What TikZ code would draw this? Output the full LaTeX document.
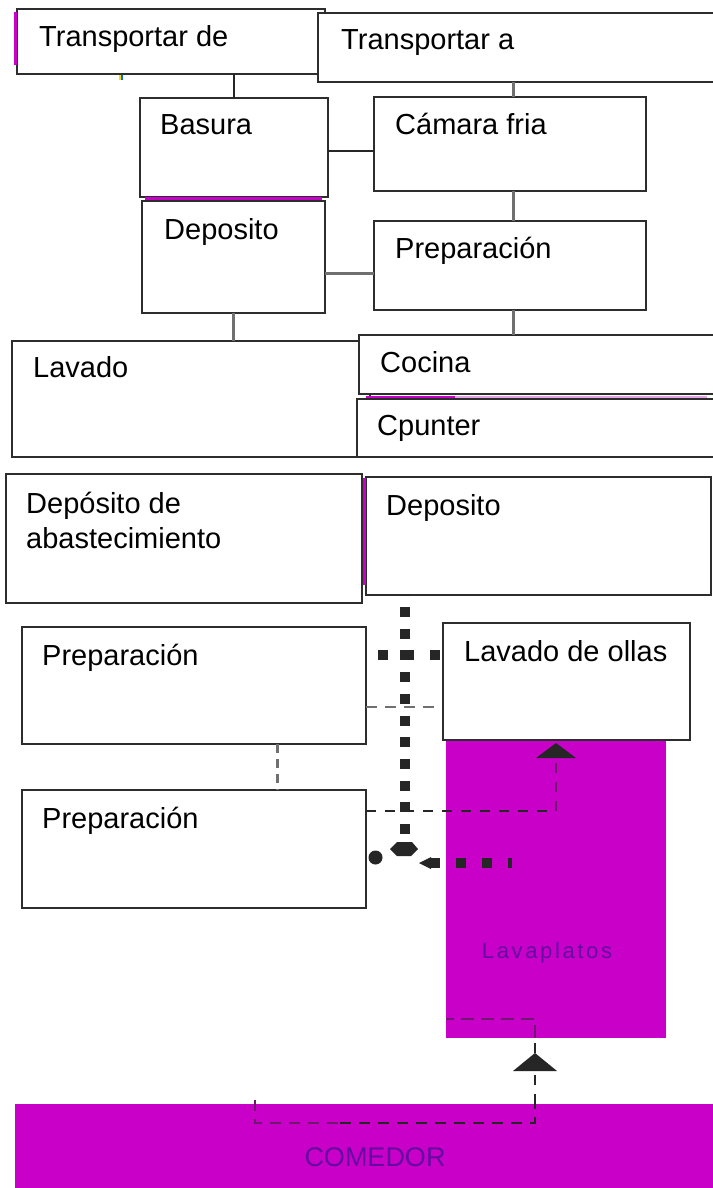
\documentclass[tikz,border=0pt]{standalone}
\usepackage{fontspec}
\setmainfont{Liberation Sans}
\usetikzlibrary{calc}
\definecolor{mag}{RGB}{200,0,200}
\definecolor{lightmag}{RGB}{230,165,230}
\definecolor{bord}{RGB}{45,45,45}
\definecolor{dk}{RGB}{38,38,38}
\definecolor{gr}{RGB}{112,112,112}
\definecolor{pdash}{RGB}{110,25,110}
\definecolor{ptext}{RGB}{100,10,160}
\begin{document}
\begin{tikzpicture}[x=1pt,y=-1pt,
  box/.style={draw=bord, line width=1.4pt, fill=white, anchor=north west, inner sep=0pt, outer sep=0pt},
  magbox/.style={fill=mag, draw=none, anchor=north west, inner sep=0pt, outer sep=0pt},
  txt/.style={anchor=base west, inner sep=0pt, font=\fontsize{29}{34}\selectfont},
  ptxt/.style={inner sep=0pt, text=ptext},
  cdark/.style={draw=dk, line width=2pt},
  cgray/.style={draw=gr, line width=3pt},
  thickdot/.style={draw=dk, line width=10pt, dash pattern=on 10pt off 11.7pt},
  thickdoth/.style={draw=dk, line width=10pt, dash pattern=on 10pt off 16pt},
  grdash/.style={draw=gr, line width=2.5pt, dash pattern=on 11pt off 8pt},
  dkdash/.style={draw=dk, line width=2pt, dash pattern=on 10pt off 9pt},
  pdashed/.style={draw=pdash, line width=2pt, dash pattern=on 10pt off 9pt},
  accent/.style={draw=mag, line width=3pt}
]
\useasboundingbox (0,0) rectangle (712,1188);
\fill[white] (0,0) rectangle (712,1188);

% magenta areas
\node[magbox, minimum width=220pt, minimum height=308pt] (lavaplatos) at (446,730) {};
\node[magbox, minimum width=705pt, minimum height=95pt] (comedor) at (15,1104) {};
\node[ptxt, anchor=base, font=\fontsize{22}{24}\selectfont\addfontfeature{LetterSpace=12}] at (547,958) {Lavaplatos};
\node[ptxt, font=\fontsize{27}{30}\selectfont] at (375,1157) {COMEDOR};

% boxes
\node[box, minimum width=308pt, minimum height=65pt] (tde) at (17,9) {};
\node[box, minimum width=402pt, minimum height=69pt] (ta) at (318,13) {};
\node[box, minimum width=188pt, minimum height=99pt] (basura) at (140,98) {};
\node[box, minimum width=272pt, minimum height=94pt] (camara) at (374,97) {};
\node[box, minimum width=183pt, minimum height=112pt] (dep1) at (142,201) {};
\node[box, minimum width=272pt, minimum height=89pt] (prep1) at (374,221) {};
\node[box, minimum width=358pt, minimum height=116pt] (lavado) at (12,341) {};
\node[box, minimum width=361pt, minimum height=59pt] (cocina) at (359,335) {};
\node[box, minimum width=363pt, minimum height=58pt] (cpunter) at (357,399) {};
\node[box, minimum width=356pt, minimum height=129pt] (depab) at (6,474) {};
\node[box, minimum width=345pt, minimum height=118pt] (dep2) at (366,477) {};
\node[box, minimum width=344pt, minimum height=117pt] (prep2) at (22,627) {};
\node[box, minimum width=247pt, minimum height=117pt] (ollas) at (443,623) {};
\node[box, minimum width=344pt, minimum height=118pt] (prep3) at (22,790) {};

% texts
\node[txt] at (39,47) {Transportar de};
\node[txt] at (341,50) {Transportar a};
\node[txt] at (160,135) {Basura};
\node[txt] at (395,135) {Cámara fria};
\node[txt] at (164,239) {Deposito};
\node[txt] at (395,258) {Preparación};
\node[txt] at (33,377) {Lavado};
\node[txt] at (380,372) {Cocina};
\node[txt] at (377,435) {Cpunter};
\node[txt] at (26,513) {Depósito de};
\node[txt] at (26,548) {abastecimiento};
\node[txt] at (386,515) {Deposito};
\node[txt] at (42,665) {Preparación};
\node[txt] at (464,661) {Lavado de ollas};
\node[txt] at (42,828) {Preparación};

% magenta accents and small marks
\draw[accent] (15.5,12) -- (15.5,65);
\draw[mag, line width=2.5pt] (145,198.5) -- (322,198.5);
\draw[mag, line width=2.5pt] (366,397) -- (455,397);
\draw[lightmag, line width=2.5pt] (455,397) -- (707,397);
\draw[accent] (364,478) -- (364,585);
\fill[yellow!80!orange] (119,75) rectangle (121,80);
\fill[blue!60!cyan] (121,75) rectangle (123,80);

% helper coordinates
\coordinate (h151) at (0,151);
\coordinate (h273) at (0,273);
\coordinate (x513) at (513,0);
\coordinate (v405) at (405,0);
\coordinate (h655) at (0,655);
\coordinate (h707) at (0,707);
\coordinate (h811) at (0,811);
\coordinate (x277) at (277,0);
\coordinate (aup) at (556,743);
\coordinate (vend) at (405,836);
\coordinate (hstart) at (512,863);
\coordinate (hend) at (430,863);
\coordinate (ltip) at (419,863);
\coordinate (dot) at (375.5,857.5);
\coordinate (cs) at (255,1100);
\coordinate (c1) at (255,1123);
\coordinate (c2) at (340,1123);
\coordinate (c3) at (535,1123);
\coordinate (atip) at (535,1053);
\coordinate (cin) at (535,1019);

% upper connectors
\draw[cdark] (basura.north |- tde.south) -- (basura.north);
\draw[cgray] (x513 |- ta.south) -- (x513 |- camara.north);
\draw[cdark] (basura.east |- h151) -- (camara.west |- h151);
\draw[cgray] (x513 |- camara.south) -- (x513 |- prep1.north);
\draw[cgray] (dep1.east |- h273) -- (prep1.west |- h273);
\draw[cgray] (dep1.south) -- (dep1.south |- lavado.north);
\draw[cgray] (x513 |- prep1.south) -- (x513 |- cocina.north);

% lower connectors
\draw[thickdot, dash phase=9.7pt] (v405 |- dep2.south) -- (vend);
\fill[dk] (390,849) -- (397,842) -- (412,842) -- (418,849) -- (411,856) -- (397,856) -- cycle;
\draw[thickdoth, dash phase=14pt] (prep2.east |- h655) -- (ollas.west |- h655);
\draw[grdash] (prep2.east |- h707) -- ([xshift=-6pt]ollas.west |- h707);
\draw[grdash, line width=3pt, dash pattern=on 9pt off 6pt] (x277 |- prep2.south) -- (x277 |- prep3.north);
\draw[dkdash] (prep3.east |- h811) -- (aup |- h811);
\draw[pdashed] (aup |- h811) -- ($(aup)+(0,15)$);
\fill[dk] (aup) -- ++(-20,15) -- ++(40,0) -- cycle;
\draw[thickdoth, dash phase=6pt] (hstart) -- (hend);
\fill[dk] ($(hend)+(1,-6)$) -- (ltip) -- ($(hend)+(1,6)$) -- cycle;
\fill[dk] (dot) circle (7pt);

% comedor to lavaplatos
\draw[pdashed, dash pattern=on 11pt off 8pt] (cs) -- (c1) -- (c2);
\draw[dkdash, dash pattern=on 11pt off 8pt] (c2) -- (c3) -- (c3 |- comedor.north);
\draw[dkdash] (c3 |- comedor.north) -- ($(atip)+(0,18)$);
\fill[dk] (atip) -- ++(-22,18) -- ++(44,0) -- cycle;
\draw[dkdash] (atip) -- (atip |- lavaplatos.south);
\draw[pdashed, dash pattern=on 13pt off 7pt] (atip |- lavaplatos.south) -- (cin) -- (lavaplatos.west |- cin);
\end{tikzpicture}
\end{document}
